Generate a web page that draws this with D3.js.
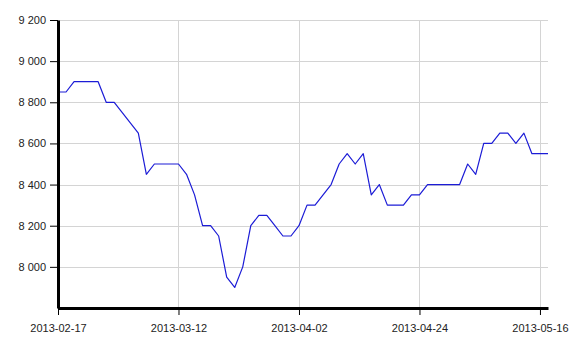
<!DOCTYPE html>
<html>
<head>
<meta charset="utf-8">
<script src="https://cdn.jsdelivr.net/npm/d3@7"></script>
<style>
  body { margin: 0; background: #fff; }
  svg text { font-family: "Liberation Sans", Arial, sans-serif; font-size: 11px; fill: #222; }
  .grid line { stroke: #d4d4d4; stroke-width: 1; }
</style>
</head>
<body>
<svg id="chart" width="570" height="340"></svg>
<script>
// daily prices, one value per point (index based x axis)
const prices = [
  8850, 8850, 8900, 8900, 8900, 8900, 8800, 8800, 8750, 8700,
  8650, 8450, 8500, 8500, 8500, 8500, 8450, 8350, 8200, 8200,
  8150, 7950, 7900, 8000, 8200, 8250, 8250, 8200, 8150, 8150,
  8200, 8300, 8300, 8350, 8400, 8500, 8550, 8500, 8550, 8350,
  8400, 8300, 8300, 8300, 8350, 8350, 8400, 8400, 8400, 8400,
  8400, 8500, 8450, 8600, 8600, 8650, 8650, 8600, 8650, 8550,
  8550, 8550
];
const tickIndex = [0, 15, 30, 45, 60];
const tickLabels = ['2013-02-17', '2013-03-12', '2013-04-02', '2013-04-24', '2013-05-16'];
const yTicks = [8000, 8200, 8400, 8600, 8800, 9000, 9200];
const yDomain = [7800, 9200];

const margin = {top: 20, right: 22, bottom: 32, left: 58};

let svg = d3.select('#chart');
let width = +svg.attr('width') - margin.left - margin.right;
let height = +svg.attr('height') - margin.top - margin.bottom;

let x = d3.scaleLinear()
  .domain([0, prices.length - 1])
  .range([0, width]);

let y = d3.scaleLinear()
  .domain(yDomain)
  .range([height, 0]);

const fmt = d3.formatLocale({decimal: '.', thousands: ' ', grouping: [3], currency: ['', '']}).format(',');

let g = svg.append('g')
  .attr('transform', 'translate(' + margin.left + ',' + margin.top + ')');

// grid
g.append('g')
  .attr('class', 'grid')
  .selectAll('line.h')
  .data(yTicks)
  .join('line')
  .attr('x1', 0)
  .attr('x2', width)
  .attr('y1', d => Math.round(y(d)) + 0.5)
  .attr('y2', d => Math.round(y(d)) + 0.5);

g.append('g')
  .attr('class', 'grid')
  .selectAll('line.v')
  .data(tickIndex)
  .join('line')
  .attr('x1', d => Math.round(x(d)) + 0.5)
  .attr('x2', d => Math.round(x(d)) + 0.5)
  .attr('y1', 0)
  .attr('y2', height);

// price line
let line = d3.line()
  .x((d, i) => x(i))
  .y(d => y(d));

g.append('path')
  .datum(prices)
  .attr('fill', 'none')
  .attr('stroke', '#1c1cd6')
  .attr('stroke-width', 1.2)
  .attr('stroke-linejoin', 'round')
  .attr('d', line);

// axes
let xAxis = d3.axisBottom(x)
  .tickValues(tickIndex)
  .tickFormat((d, i) => tickLabels[i])
  .tickSize(7)
  .tickSizeOuter(0)
  .tickPadding(9);

let yAxis = d3.axisLeft(y)
  .tickValues(yTicks)
  .tickFormat(fmt)
  .tickSize(8)
  .tickSizeOuter(0)
  .tickPadding(4);

let gx = g.append('g')
  .attr('transform', 'translate(0,' + height + ')')
  .call(xAxis);

let gy = g.append('g')
  .call(yAxis);

[gx, gy].forEach(a => {
  a.select('.domain').attr('stroke', '#000').attr('stroke-width', 3);
  a.selectAll('.tick line').attr('stroke', '#000').attr('stroke-width', 1);
  a.selectAll('text').attr('font-family', null).attr('font-size', null);
});
</script>
</body>
</html>
